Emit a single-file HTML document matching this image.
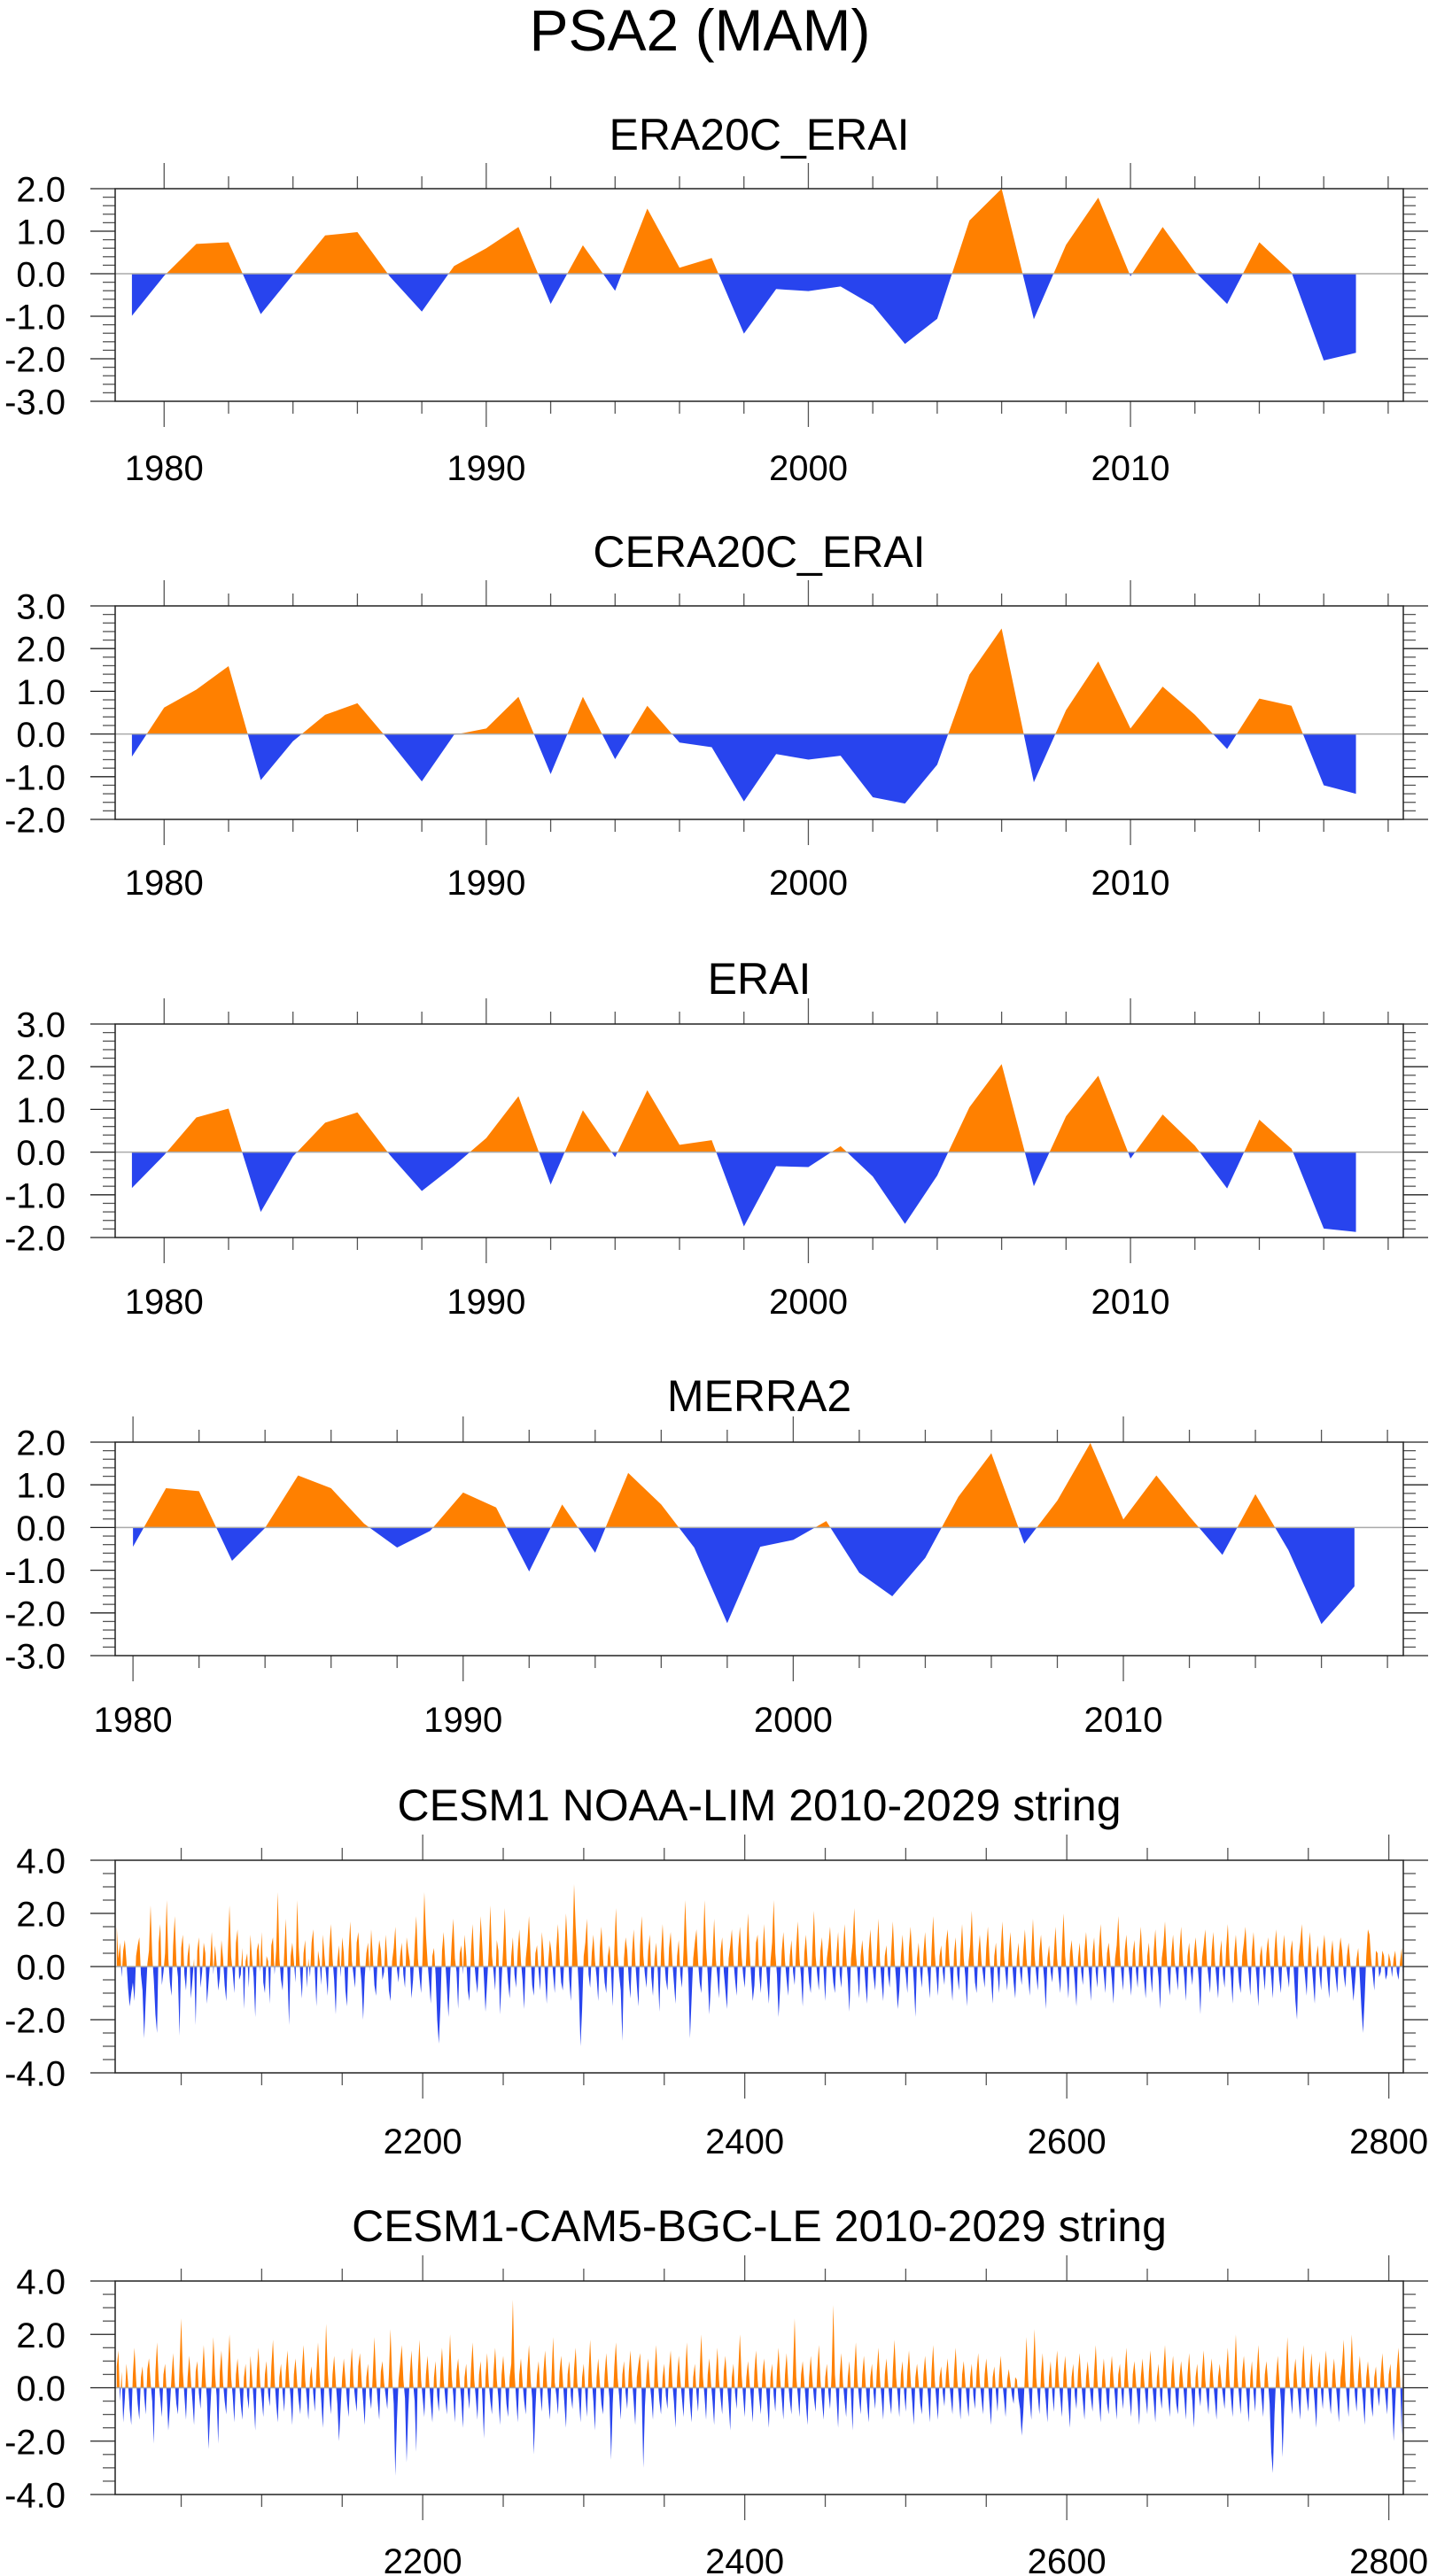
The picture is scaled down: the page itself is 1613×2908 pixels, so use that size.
<!DOCTYPE html>
<html><head><meta charset="utf-8"><title>PSA2 (MAM)</title>
<style>
html,body{margin:0;padding:0;background:#fff;}
svg{display:block;font-family:"Liberation Sans",Arial,sans-serif;}
</style></head>
<body>
<svg id="fig" width="1613" height="2908" viewBox="0 0 1613 2908" xmlns="http://www.w3.org/2000/svg">
<text x="790" y="57" font-size="66" text-anchor="middle">PSA2 (MAM)</text>
</svg>
<script>
// ---- data ----
const yearsReanalysis = [1979, 2017];
const era20cErai = [-0.99,-0.05,0.70,0.74,-0.95,-0.02,0.90,0.98,-0.06,-0.89,0.18,0.60,1.10,-0.71,0.67,-0.40,1.53,0.14,0.37,-1.41,-0.36,-0.41,-0.30,-0.74,-1.65,-1.06,1.25,2.00,-1.07,0.68,1.79,-0.06,1.10,0.05,-0.71,0.74,0.03,-2.04,-1.86];
const cera20cErai = [-0.53,0.62,1.04,1.59,-1.08,-0.17,0.45,0.72,-0.17,-1.11,-0.02,0.13,0.87,-0.94,0.87,-0.59,0.66,-0.20,-0.31,-1.58,-0.47,-0.60,-0.51,-1.48,-1.63,-0.72,1.39,2.47,-1.13,0.56,1.70,0.13,1.11,0.45,-0.35,0.83,0.66,-1.20,-1.40];
const erai = [-0.84,-0.07,0.81,1.02,-1.40,-0.10,0.69,0.93,-0.06,-0.91,-0.32,0.33,1.31,-0.76,0.98,-0.12,1.45,0.17,0.28,-1.74,-0.33,-0.35,0.14,-0.57,-1.68,-0.55,1.05,2.06,-0.80,0.84,1.79,-0.15,0.88,0.15,-0.85,0.76,0.08,-1.79,-1.87];
const merra2 = [-0.45,0.92,0.85,-0.78,-0.01,1.22,0.92,0.09,-0.47,-0.08,0.82,0.47,-1.03,0.54,-0.59,1.28,0.54,-0.47,-2.24,-0.45,-0.29,0.15,-1.06,-1.61,-0.71,0.72,1.74,-0.38,0.63,1.98,0.19,1.22,0.26,-0.64,0.78,-0.53,-2.26,-1.38];
const noaaLim = [
1.5,0.3,0.9,-0.4,0.6,1.0,0.2,-0.8,-1.5,-1.0,-0.6,-1.3,0.4,0.8,1.1,-0.3,-0.9,-2.7,-1.2,0.1,0.6,2.3,0.4,-0.5,-1.8,-2.5,0.9,1.6,-0.7,-0.2,0.5,2.5,0.3,-0.6,-1.1,0.8,1.9,0.2,-0.4,-2.6,
0.7,1.2,-0.3,-0.9,0.4,0.9,-1.2,-0.5,0.3,-2.2,0.6,1.1,-0.8,-0.2,0.9,0.5,-1.4,-0.6,0.2,1.3,-0.3,0.8,0.1,-0.9,-0.4,1.0,0.3,-0.7,-1.3,0.6,2.3,0.4,-0.2,-1.0,0.9,1.4,-0.5,-0.3,0.7,-1.6,
0.2,0.5,-0.8,1.2,0.3,-0.4,-1.9,0.6,0.9,-0.2,1.3,-0.6,-1.0,0.4,0.2,-1.4,0.8,1.1,-0.3,0.6,2.8,0.3,-0.5,-0.9,0.5,1.8,-0.2,-2.2,0.4,0.9,0.2,-0.6,2.5,0.7,-0.3,-1.2,0.5,1.0,-0.8,0.3,
-0.4,0.9,1.4,-0.2,-1.5,0.6,0.2,-0.7,1.2,0.4,-0.3,-1.1,0.7,1.6,0.3,-0.5,-1.8,0.2,0.8,-0.4,1.1,0.5,-0.9,-1.5,0.6,1.7,0.2,-0.3,-0.8,0.9,1.3,0.1,-0.6,-2.0,-0.4,0.5,0.9,-0.2,1.4,0.4,
-0.7,-1.1,0.3,1.0,0.6,-0.5,-0.2,1.2,0.3,-0.9,-1.3,0.2,0.7,1.5,-0.1,-0.6,0.4,0.9,-0.3,-0.8,1.1,0.6,0.2,-1.2,-0.5,0.8,1.9,0.3,-0.4,-1.0,0.5,2.8,1.2,0.2,-0.6,-1.4,0.4,0.7,-0.3,-2.0,
-2.9,-1.5,0.6,1.3,0.2,-0.8,-1.9,-0.4,0.9,1.8,0.3,-0.2,-1.6,0.5,0.8,-0.3,1.2,0.4,-0.9,-1.3,0.6,1.6,0.2,-0.5,-1.0,0.3,1.9,0.8,-0.4,-1.7,-0.6,0.5,2.3,0.4,-0.2,-0.9,1.0,0.6,-1.8,-0.5,
0.7,2.2,0.3,-0.6,-1.2,0.4,1.1,-0.3,-0.8,0.6,1.4,0.2,-0.5,-1.6,0.3,0.9,1.9,0.4,-0.7,-1.1,0.5,0.8,-0.2,-0.9,1.3,0.6,-0.4,-1.4,0.2,1.0,0.5,-0.3,-1.0,0.7,1.6,0.3,-0.6,-0.9,0.4,2.0,
0.8,-0.5,-1.3,0.6,3.1,1.5,0.3,-0.9,-3.0,-1.6,0.4,0.9,1.8,-0.3,-0.8,0.5,1.2,0.2,-0.4,-1.3,0.7,1.5,0.3,-0.6,-1.0,0.4,0.8,-0.2,-1.5,0.6,2.2,0.5,-0.3,-0.9,-2.8,0.3,1.1,0.6,-0.5,-1.2,
0.5,1.4,0.2,-0.7,-1.5,0.8,1.9,0.4,-0.3,-0.8,0.6,1.2,-0.4,-1.1,0.3,0.9,-0.2,-1.7,0.5,1.6,0.3,-0.5,-0.9,0.7,1.3,0.2,-0.6,-1.4,0.4,1.0,-0.3,-0.8,0.6,2.5,0.8,-0.4,-2.7,-1.2,0.3,0.9,
1.4,0.2,-0.6,-1.0,0.5,2.5,0.7,-0.3,-1.8,-0.6,0.4,1.8,0.3,-0.4,-1.2,0.6,1.1,-0.2,-0.9,-1.6,0.3,0.8,1.4,0.2,-0.5,-1.1,0.7,1.5,0.4,-0.3,-0.8,0.5,2.0,0.6,-0.4,-1.3,-0.7,0.9,1.2,-0.3,
-1.0,0.4,1.6,0.3,-0.6,-1.4,0.2,0.9,2.5,0.5,-0.3,-1.9,-0.8,0.6,1.3,0.2,-0.5,-1.1,0.4,1.0,-0.2,-0.7,0.8,1.7,0.3,-0.4,-1.5,0.5,1.2,0.2,-0.6,-1.0,0.7,2.1,0.4,-0.3,-0.9,0.6,1.1,-0.2,
-1.3,0.3,0.8,1.5,0.2,-0.6,-1.0,0.5,1.3,-0.3,-0.8,0.6,1.6,0.4,-0.5,-1.7,0.3,0.9,2.2,0.5,-0.2,-1.2,0.4,1.0,0.2,-0.7,-1.4,0.6,1.4,0.3,-0.4,-0.9,0.5,1.8,0.2,-0.6,-1.3,0.4,0.8,-0.3,
-0.8,0.6,1.7,0.3,-0.5,-1.6,-0.9,0.4,1.2,0.2,-0.3,-1.0,0.7,1.5,0.4,-0.6,-1.9,0.3,0.9,-0.2,-0.8,0.5,1.3,0.2,-0.4,-1.2,0.6,1.9,0.5,-0.3,-1.1,0.4,0.8,-0.2,-0.7,0.9,1.4,0.3,-0.5,-1.3,
0.5,1.1,-0.3,-0.9,0.6,1.6,0.3,-0.4,-1.5,0.2,0.8,2.1,0.4,-0.6,-1.0,0.5,1.2,0.2,-0.3,-0.8,0.7,1.5,0.3,-0.5,-1.4,0.4,0.9,-0.2,-1.0,0.6,1.7,0.4,-0.3,-0.9,0.5,1.3,0.2,-0.6,-1.2,0.3,
0.9,-0.2,-0.7,0.6,1.4,0.3,-0.4,-1.1,0.5,1.8,0.4,-0.3,-0.9,0.6,1.2,0.2,-0.5,-1.6,0.3,0.8,-0.2,-0.6,0.5,1.5,0.3,-0.4,-1.0,0.7,2.0,0.4,-0.3,-1.2,0.5,1.0,0.2,-0.6,-1.5,0.3,0.9,-0.2,
-0.7,0.6,1.3,0.3,-0.4,-1.3,0.5,1.1,-0.2,-0.8,0.7,1.6,0.4,-0.3,-1.0,0.5,0.9,0.2,-0.5,-1.4,0.3,0.8,1.9,0.4,-0.3,-0.9,0.6,1.2,0.2,-0.4,-1.1,0.5,1.0,-0.2,-0.8,0.6,1.5,0.3,-0.5,-1.2,
0.4,0.9,-0.3,-1.0,0.6,1.4,0.2,-0.4,-1.6,0.3,0.8,1.7,0.4,-0.5,-1.1,0.5,1.2,0.2,-0.3,-0.9,0.6,1.5,0.3,-0.4,-1.3,0.4,0.9,-0.2,-0.7,0.5,1.1,0.3,-0.5,-1.8,0.3,0.8,1.4,0.2,-0.4,-1.0,
0.6,1.3,0.2,-0.5,-1.2,0.4,1.0,-0.3,-0.8,0.7,1.6,0.3,-0.4,-1.4,0.5,1.2,0.2,-0.6,-1.0,0.4,0.9,1.5,0.3,-0.3,-1.1,0.6,1.3,0.2,-0.5,-1.5,0.4,0.8,-0.2,-0.9,0.5,1.1,0.3,-0.4,-1.2,0.6,
1.4,0.3,-0.5,-1.0,0.5,1.2,0.2,-0.3,-0.8,0.6,1.0,-0.2,-1.3,-2.0,0.4,0.9,1.6,0.3,-0.4,-1.1,0.5,1.3,0.2,-0.6,-1.4,0.4,0.8,-0.3,-0.9,0.6,1.2,0.3,-0.5,-1.2,0.4,1.0,0.2,-0.4,-1.0,0.5,
1.1,0.6,-0.3,-0.8,0.4,0.9,0.2,-0.5,-1.3,-0.6,0.3,0.7,-0.4,-1.6,-2.5,-1.2,0.4,1.4,1.2,0.3,-0.3,-0.9,0.6,0.5,-0.4,-0.2,0.6,0.4,-0.5,-0.3,0.5,0.2,-0.4,0.3,0.6,-0.2,-0.5,0.2,0.7,-0.6];
const bgcLe = [
0.8,1.4,-0.5,0.6,-1.3,-0.4,0.9,0.2,-0.8,-1.4,0.5,1.5,0.3,-0.6,-1.2,0.4,0.8,-0.3,-1.0,0.7,1.1,0.2,-0.5,-2.1,0.6,1.7,0.3,-0.4,-1.1,0.5,0.9,-0.2,-1.6,-0.7,0.4,1.3,0.2,-0.6,-1.0,0.8,
2.6,0.6,-0.3,-1.2,0.4,1.2,0.3,-0.5,-1.4,0.6,1.0,-0.2,-0.8,0.5,1.6,0.4,-0.4,-2.3,-0.9,0.3,1.9,0.5,-0.3,-2.1,0.6,1.4,0.2,-0.5,-1.0,0.7,2.0,0.4,-0.3,-1.3,0.5,1.1,0.2,-0.6,-1.2,0.4,
0.9,-0.3,-0.8,1.2,0.4,-0.5,-1.6,0.6,1.5,0.2,-0.4,-1.1,0.5,1.0,-0.2,-0.7,0.8,1.8,0.3,-0.6,-1.3,0.4,0.9,-0.2,-0.9,0.6,1.4,0.3,-0.4,-1.4,0.5,1.1,0.2,-0.5,-1.0,0.7,1.6,0.3,-0.4,-1.2,
0.4,0.8,-0.2,-0.9,0.6,1.7,0.4,-0.5,-1.5,0.3,2.4,0.6,-0.3,-1.0,0.5,1.2,0.2,-0.6,-2.0,-0.8,0.4,1.1,0.3,-0.5,-1.1,0.6,1.5,0.2,-0.4,-0.9,0.8,1.3,0.3,-0.5,-1.4,0.4,0.9,-0.3,-0.8,0.5,
1.9,0.4,-0.5,-1.2,0.6,1.0,0.2,-0.3,-0.8,0.5,2.2,0.4,-0.6,-3.3,-1.2,0.3,0.9,1.6,0.3,-0.4,-2.8,-0.9,0.5,1.4,0.2,-0.5,-2.4,0.6,1.8,0.3,-0.4,-1.1,0.5,1.2,0.2,-0.6,-1.3,0.4,1.0,-0.3,
-0.9,0.6,1.5,0.3,-0.4,-1.0,0.5,2.0,0.4,-0.3,-1.3,0.6,1.1,0.2,-0.5,-1.5,0.4,0.9,-0.2,-0.8,0.7,1.7,0.3,-0.4,-1.2,0.5,1.0,-0.3,-1.9,0.4,1.3,0.2,-0.5,-1.0,0.6,1.5,0.3,-0.4,-1.4,0.5,
1.2,0.3,-0.6,-1.1,0.4,0.9,3.3,0.6,-0.4,-1.3,0.5,1.1,0.2,-0.5,-1.0,0.7,1.6,0.3,-0.4,-2.5,-0.8,0.5,1.0,-0.2,-0.9,0.6,1.4,0.3,-0.5,-1.2,0.4,1.9,0.2,-0.3,-1.0,0.6,1.2,0.3,-0.6,-1.5,
0.5,1.0,-0.3,-0.8,0.7,1.5,0.2,-0.4,-1.3,0.4,0.9,-0.2,-1.1,0.6,1.8,0.3,-0.5,-1.6,0.4,1.1,0.2,-0.6,-1.0,0.5,1.3,0.3,-0.4,-2.7,-0.6,0.8,1.7,0.4,-0.3,-1.2,0.5,1.0,-0.2,-0.8,0.6,1.4,
0.3,-0.5,-1.4,0.4,0.9,1.3,-0.2,-3.0,-0.7,0.5,1.1,0.2,-0.4,-1.2,0.6,1.6,0.3,-0.5,-1.0,0.4,0.9,-0.3,-0.8,0.7,1.4,0.2,-0.5,-1.5,0.4,1.2,0.3,-0.4,-1.1,0.5,1.7,0.3,-0.6,-1.3,0.4,0.9,
-0.2,-0.9,0.6,2.0,0.4,-0.3,-1.2,0.5,1.1,0.2,-0.5,-1.4,0.4,1.5,0.3,-0.4,-1.0,0.6,1.2,0.2,-0.6,-1.6,0.4,0.9,-0.2,-0.8,0.7,2.0,0.5,-0.3,-1.1,0.4,1.0,0.2,-0.5,-1.3,0.6,1.4,0.3,-0.4,
-1.0,0.5,1.1,0.2,-0.6,-1.5,0.4,0.9,-0.3,-0.9,0.6,1.5,0.3,-0.4,-1.2,0.5,1.3,0.2,-0.5,-1.0,0.7,2.6,0.4,-0.3,-1.1,0.5,1.0,0.2,-0.6,-1.4,0.4,1.2,0.3,-0.4,-0.9,0.6,1.6,0.3,-0.5,-1.2,
0.4,0.9,-0.2,-0.8,0.6,3.1,0.5,-0.4,-1.5,0.5,1.3,0.2,-0.5,-1.1,0.4,1.0,-0.3,-1.6,0.6,1.7,0.3,-0.4,-1.0,0.5,1.2,0.2,-0.6,-1.3,0.4,0.9,-0.2,-0.8,0.6,1.5,0.3,-0.4,-1.2,0.5,1.1,0.2,
-0.5,-1.0,0.7,1.8,0.4,-0.3,-1.1,0.5,1.0,-0.2,-0.9,0.6,1.4,0.3,-0.5,-1.4,0.4,0.9,0.2,-0.6,-1.0,0.5,1.2,0.3,-0.4,-1.3,0.6,1.6,0.3,-0.5,-1.2,0.4,0.8,-0.2,-0.7,0.5,1.1,0.2,-0.4,-1.0,
0.6,1.5,0.3,-0.4,-1.2,0.5,1.0,0.2,-0.5,-1.1,0.4,0.9,-0.3,-0.8,0.6,1.3,0.2,-0.4,-1.0,0.5,1.1,0.3,-0.6,-1.4,0.4,0.8,-0.2,-0.9,0.5,1.2,0.2,-0.4,-1.1,0.3,0.7,0.2,-0.3,-0.6,0.4,0.3,
-0.4,-0.8,-1.8,-0.9,0.5,1.9,0.3,-0.5,-1.2,0.6,2.2,0.4,-0.3,-1.0,0.5,1.3,0.2,-0.5,-1.3,0.4,1.0,-0.2,-0.9,0.6,1.4,0.3,-0.4,-1.1,0.5,1.2,0.2,-0.6,-1.5,0.4,0.9,-0.3,-0.8,0.6,1.3,0.2,
-0.5,-1.2,0.4,1.0,0.2,-0.4,-0.9,0.6,1.6,0.3,-0.5,-1.3,0.4,1.1,0.2,-0.6,-1.0,0.5,1.2,0.3,-0.4,-1.2,0.5,0.9,-0.2,-0.8,0.6,1.5,0.3,-0.4,-1.1,0.5,1.0,0.2,-0.5,-1.4,0.4,1.1,0.3,-0.4,
-1.0,0.6,1.4,0.2,-0.5,-1.3,0.4,0.9,-0.3,-0.8,0.7,1.6,0.3,-0.4,-1.1,0.5,1.2,0.2,-0.6,-1.0,0.4,1.0,0.3,-0.4,-1.2,0.5,1.3,0.2,-0.5,-1.5,0.4,0.9,-0.2,-0.7,0.6,1.4,0.3,-0.4,-1.0,0.5,
1.1,0.2,-0.5,-1.2,0.4,0.9,0.2,-0.3,-0.8,0.6,1.5,0.3,-0.4,-1.1,0.5,2.0,0.4,-0.3,-1.0,0.6,1.2,0.2,-0.5,-1.3,0.4,1.0,-0.2,-0.9,0.6,1.6,0.3,-0.4,-1.1,0.5,1.0,0.2,-0.6,-2.4,-3.2,-1.0,
0.4,1.2,0.3,-0.5,-2.6,-0.8,0.5,1.9,0.4,-0.3,-1.0,0.5,1.1,0.2,-0.5,-1.2,0.6,1.6,0.3,-0.4,-0.9,0.5,1.3,0.2,-0.6,-1.5,0.4,1.0,-0.2,-0.8,0.6,1.4,0.3,-0.4,-1.0,0.5,1.1,0.2,-0.5,-1.3,
0.4,0.9,1.8,0.3,-0.4,-1.1,0.5,2.0,0.6,-0.3,-0.9,0.5,1.2,0.2,-0.5,-1.4,0.4,1.0,0.3,-0.6,-1.1,0.4,0.8,-0.2,-0.7,0.5,1.3,0.3,-0.4,-1.0,0.5,0.9,-0.3,-2.0,-0.6,0.7,1.5,0.3,-1.8,1.5];
const decadeTicks = [1980, 1990, 2000, 2010];
const centuryTicks = [2200, 2400, 2600, 2800];

const NS = "http://www.w3.org/2000/svg";
const svg = document.getElementById('fig');
const ORANGE = "#ff8000", BLUE = "#2844ee";
function mk(tag, attrs, parent) {
  const e = document.createElementNS(NS, tag);
  for (const k in attrs) e.setAttribute(k, attrs[k]);
  (parent || svg).appendChild(e);
  return e;
}
let clipId = 0;
function panel(p) {
  const L = 130, R = 1584;
  const g = mk('g', {});
  
  
  const xs = v => L + (v - p.xmin) / (p.xmax - p.xmin) * (R - L);
  const ys = v => p.top + (p.ymax - v) / (p.ymax - p.ymin) * (p.bottom - p.top);
  const t = mk('text', {x: (L + R) / 2, y: p.titleY, 'font-size': 50, 'text-anchor': 'middle'}, g);
  t.textContent = p.title;
  
  
  // fill series
  const y0 = ys(0);
  let pts = [];
  p.values.forEach((v, i) => pts.push(xs(p.start + i).toFixed(2) + ',' + ys(v).toFixed(2)));
  const xa = xs(p.start), xb = xs(p.start + p.values.length - 1);
  const poly = xa.toFixed(2) + ',' + y0 + ' ' + pts.join(' ') + ' ' + xb.toFixed(2) + ',' + y0;
  const ida = 'ca' + (clipId), idb = 'cb' + (clipId++);
  const defs = mk('defs', {}, g);
  const c1 = mk('clipPath', {id: ida}, defs); mk('rect', {x: L, y: p.top - 50, width: R - L, height: y0 - p.top + 50}, c1);
  const c2 = mk('clipPath', {id: idb}, defs); mk('rect', {x: L, y: y0, width: R - L, height: p.bottom - y0 + 50}, c2);
  const pos = mk('polygon', {points: poly, fill: ORANGE, 'clip-path': 'url(#' + ida + ')'}, g);
  
  
  const neg = mk('polygon', {points: poly, fill: BLUE, 'clip-path': 'url(#' + idb + ')'}, g);
  
  
  const zl = mk('line', {x1: L, x2: R, y1: y0, y2: y0, stroke: '#aaa', 'stroke-width': 1.5}, g);
  
  
  // y ticks
  const tk = {stroke: '#555', 'stroke-width': 1.3};
  for (let v = p.ymin; v <= p.ymax + 1e-6; v += p.yMinor) {
    const yy = ys(v);
    const major = Math.abs(Math.round(v / p.yMajor) * p.yMajor - v) < 1e-6;
    const len = major ? 28 : 14;
    mk('line', Object.assign({x1: L - len, x2: L, y1: yy, y2: yy}, tk, major ? {stroke: '#222'} : {}), g);
    mk('line', Object.assign({x1: R, x2: R + len, y1: yy, y2: yy}, tk, major ? {stroke: '#222'} : {}), g);
    if (major) {
      const lb = mk('text', {x: 74, y: yy + 14.5, 'font-size': 40, 'text-anchor': 'end'}, g);
      lb.textContent = (Math.abs(v) < 1e-9 ? 0 : v).toFixed(1);
      
      
    }
  }
  // x ticks
  const first = Math.ceil(p.xmin / p.xMinor) * p.xMinor;
  for (let v = first; v <= p.xmax; v += p.xMinor) {
    const xx = xs(v);
    const major = p.xMajorTicks.includes(v);
    const len = major ? 29 : 14;
    mk('line', Object.assign({x1: xx, x2: xx, y1: p.bottom, y2: p.bottom + len}, tk), g);
    mk('line', Object.assign({x1: xx, x2: xx, y1: p.top - len, y2: p.top}, tk), g);
  }
  p.xMajorTicks.forEach(v => {
    const lb = mk('text', {x: xs(v), y: p.labelY, 'font-size': 40, 'text-anchor': 'middle'}, g);
    lb.textContent = v;
    
    
  });
  const fr = mk('rect', {x: L, y: p.top, width: R - L, height: p.bottom - p.top, fill: 'none', stroke: '#222', 'stroke-width': 1.5}, g);
  
  
}
const yr = yearsReanalysis[0];
panel({name:'panel-era20c-erai', title:'ERA20C_ERAI', titleY:169, top:213, bottom:453, ymin:-3, ymax:2, yMajor:1, yMinor:0.2,
  xmin:1978.48, xmax:2018.47, xMinor:2, xMajorTicks:decadeTicks, labelY:542, values:era20cErai, start:yr});
panel({name:'panel-cera20c-erai', title:'CERA20C_ERAI', titleY:640, top:684, bottom:925, ymin:-2, ymax:3, yMajor:1, yMinor:0.2,
  xmin:1978.48, xmax:2018.47, xMinor:2, xMajorTicks:decadeTicks, labelY:1010, values:cera20cErai, start:yr});
panel({name:'panel-erai', title:'ERAI', titleY:1122, top:1156, bottom:1397, ymin:-2, ymax:3, yMajor:1, yMinor:0.2,
  xmin:1978.48, xmax:2018.47, xMinor:2, xMajorTicks:decadeTicks, labelY:1483, values:erai, start:yr});
panel({name:'panel-merra2', title:'MERRA2', titleY:1593, top:1628, bottom:1869, ymin:-3, ymax:2, yMajor:1, yMinor:0.2,
  xmin:1979.46, xmax:2018.48, xMinor:2, xMajorTicks:decadeTicks, labelY:1955, values:merra2, start:1980});
panel({name:'panel-cesm1-noaa-lim', title:'CESM1 NOAA-LIM 2010-2029 string', titleY:2055, top:2100, bottom:2340, ymin:-4, ymax:4, yMajor:2, yMinor:0.5,
  xmin:2009, xmax:2809, xMinor:50, xMajorTicks:centuryTicks, labelY:2431, values:noaaLim, start:2010});
panel({name:'panel-cesm1-bgc-le', title:'CESM1-CAM5-BGC-LE 2010-2029 string', titleY:2530, top:2575, bottom:2816, ymin:-4, ymax:4, yMajor:2, yMinor:0.5,
  xmin:2009, xmax:2809, xMinor:50, xMajorTicks:centuryTicks, labelY:2905, values:bgcLe, start:2010});
</script>
</body></html>
